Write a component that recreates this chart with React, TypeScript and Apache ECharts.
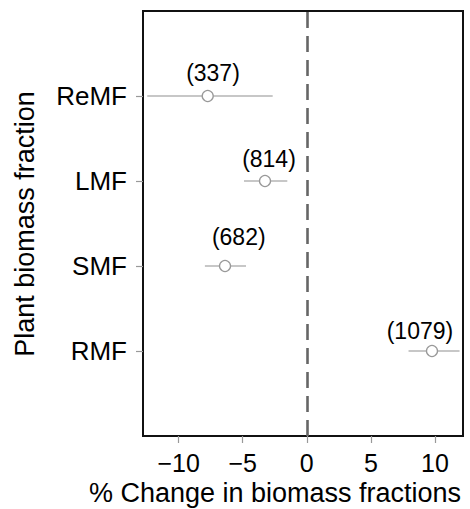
import React, { useEffect, useRef } from "react";
import * as echarts from "echarts";

// bottom to top, plotted at y = 1..4
const categories = ["RMF", "SMF", "LMF", "ReMF"];
const yPositions = [1, 2, 3, 4];
const means = [9.77, -6.38, -3.26, -7.73];
const lower = [7.94, -7.95, -4.9, -12.45];
const upper = [11.92, -4.74, -1.52, -2.66];
const sampleLabels = ["(1079)", "(682)", "(814)", "(337)"];
const labelX = [8.83, -5.31, -2.95, -7.32];
const labelY = [1.23, 2.34, 3.26, 4.27];
const xTicks = [-10, -5, 0, 5, 10];

const FONT = "'Liberation Sans', Arial, Helvetica, sans-serif";

export default function App() {
  const ref = useRef<HTMLDivElement>(null);

  useEffect(() => {
    document.body.style.margin = "0";
    const chart = echarts.init(ref.current!, undefined, { renderer: "svg" });
    const option: any = {
      animation: false,
      backgroundColor: "#fff",
      textStyle: { fontFamily: FONT },
      grid: {
        left: 143,
        right: 7,
        top: 11,
        bottom: 73,
        show: true,
        borderColor: "#111",
        borderWidth: 2,
        backgroundColor: "transparent",
        containLabel: false,
        outerBoundsMode: "none",
      },
      xAxis: {
        type: "value",
        min: -12.78,
        max: 12.19,
        axisLine: { show: false, onZero: false },
        splitLine: { show: false },
        axisTick: {
          show: true,
          customValues: xTicks,
          length: 7,
          lineStyle: { color: "#999", width: 1.2 },
        },
        axisLabel: {
          customValues: xTicks,
          formatter: (v: number) => (v < 0 ? "\u2212" + Math.abs(v) : String(v)),
          fontSize: 25,
          color: "#000",
          fontFamily: FONT,
          margin: 14,
        },
      },
      yAxis: {
        type: "value",
        min: 0,
        max: 5,
        axisLine: { show: false, onZero: false },
        splitLine: { show: false },
        axisTick: {
          show: true,
          customValues: yPositions,
          length: 7,
          lineStyle: { color: "#999", width: 1.2 },
        },
        axisLabel: {
          customValues: yPositions,
          formatter: (v: number) => categories[Math.round(v) - 1] ?? "",
          fontSize: 26,
          color: "#000",
          fontFamily: FONT,
          margin: 16,
        },
      },
      graphic: [
        {
          type: "text",
          x: 275,
          y: 493,
          style: {
            text: "% Change in biomass fractions",
            fontSize: 27,
            fontFamily: FONT,
            fill: "#000",
            textAlign: "center",
            textVerticalAlign: "middle",
          },
        },
        {
          type: "text",
          x: 25,
          y: 224,
          rotation: Math.PI / 2,
          style: {
            text: "Plant biomass fraction",
            fontSize: 27,
            fontFamily: FONT,
            fill: "#000",
            textAlign: "center",
            textVerticalAlign: "middle",
          },
        },
      ],
      series: [
        {
          type: "custom",
          data: categories.map((_, i) => [lower[i], upper[i], yPositions[i]]),
          encode: { x: [0, 1], y: 2 },
          renderItem: (_params: any, api: any) => {
            const p1 = api.coord([api.value(0), api.value(2)]);
            const p2 = api.coord([api.value(1), api.value(2)]);
            return {
              type: "line",
              shape: { x1: p1[0], y1: p1[1], x2: p2[0], y2: p2[1] },
              style: { stroke: "#b5b5b5", lineWidth: 1.6 },
            };
          },
          markLine: {
            silent: true,
            symbol: ["none", "none"],
            label: { show: false },
            lineStyle: { color: "#666", width: 2.6, type: [16, 8] },
            data: [{ xAxis: 0 }],
          },
          z: 2,
        },
        {
          type: "scatter",
          data: means.map((m, i) => [m, yPositions[i]]),
          symbol: "circle",
          symbolSize: 11,
          itemStyle: { color: "#fff", borderColor: "#999", borderWidth: 1.3, opacity: 1 },
          z: 3,
        },
        {
          type: "custom",
          data: labelX.map((x, i) => [x, labelY[i], sampleLabels[i]]),
          encode: { x: 0, y: 1 },
          renderItem: (params: any, api: any) => {
            const p = api.coord([api.value(0), api.value(1)]);
            return {
              type: "text",
              x: p[0],
              y: p[1],
              style: {
                text: sampleLabels[params.dataIndex],
                fontSize: 23,
                fontFamily: FONT,
                fill: "#000",
                textAlign: "center",
                textVerticalAlign: "middle",
              },
            };
          },
          z: 4,
        },
      ],
    };
    chart.setOption(option);
    return () => chart.dispose();
  }, []);

  return (
    <div
      ref={ref}
      style={{ position: "fixed", left: 0, top: 0, width: 470, height: 509 }}
    />
  );
}
